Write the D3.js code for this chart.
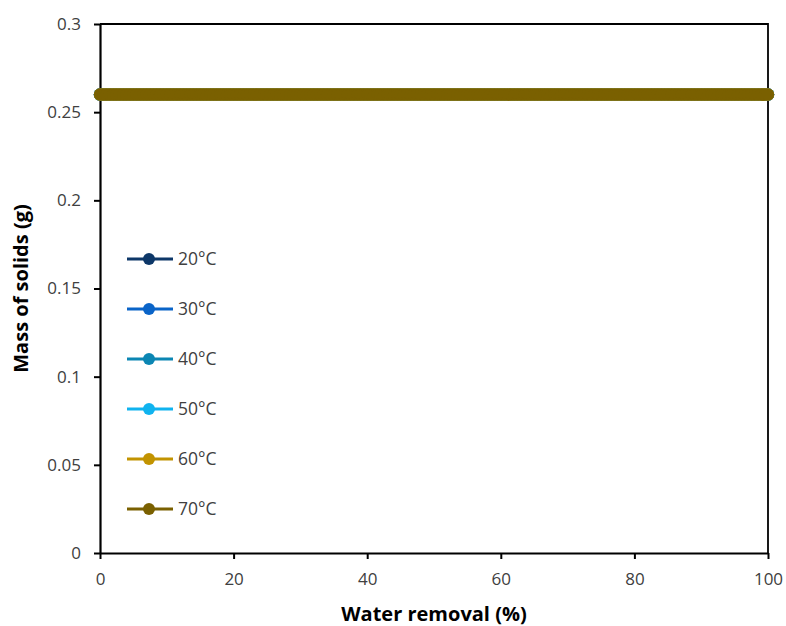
<!DOCTYPE html>
<html>
<head>
<meta charset="utf-8">
<script src="https://cdn.jsdelivr.net/npm/d3@7"></script>
<style>
  body { margin: 0; background: #fff; }
  text { font-family: "Open Sans", "Liberation Sans", sans-serif; }
</style>
</head>
<body>
<svg id="chart" width="786" height="626"></svg>
<script>
// Water removal (%) sampled along the x axis
const waterRemoval = [
  0, 0.5, 1, 1.5, 2, 2.5, 3, 3.5, 4, 4.5, 5, 5.5, 6, 6.5, 7, 7.5, 8, 8.5, 9, 9.5,
  10, 10.5, 11, 11.5, 12, 12.5, 13, 13.5, 14, 14.5, 15, 15.5, 16, 16.5, 17, 17.5, 18, 18.5, 19, 19.5,
  20, 20.5, 21, 21.5, 22, 22.5, 23, 23.5, 24, 24.5, 25, 25.5, 26, 26.5, 27, 27.5, 28, 28.5, 29, 29.5,
  30, 30.5, 31, 31.5, 32, 32.5, 33, 33.5, 34, 34.5, 35, 35.5, 36, 36.5, 37, 37.5, 38, 38.5, 39, 39.5,
  40, 40.5, 41, 41.5, 42, 42.5, 43, 43.5, 44, 44.5, 45, 45.5, 46, 46.5, 47, 47.5, 48, 48.5, 49, 49.5,
  50, 50.5, 51, 51.5, 52, 52.5, 53, 53.5, 54, 54.5, 55, 55.5, 56, 56.5, 57, 57.5, 58, 58.5, 59, 59.5,
  60, 60.5, 61, 61.5, 62, 62.5, 63, 63.5, 64, 64.5, 65, 65.5, 66, 66.5, 67, 67.5, 68, 68.5, 69, 69.5,
  70, 70.5, 71, 71.5, 72, 72.5, 73, 73.5, 74, 74.5, 75, 75.5, 76, 76.5, 77, 77.5, 78, 78.5, 79, 79.5,
  80, 80.5, 81, 81.5, 82, 82.5, 83, 83.5, 84, 84.5, 85, 85.5, 86, 86.5, 87, 87.5, 88, 88.5, 89, 89.5,
  90, 90.5, 91, 91.5, 92, 92.5, 93, 93.5, 94, 94.5, 95, 95.5, 96, 96.5, 97, 97.5, 98, 98.5, 99, 99.5,
  100
];

// Mass of solids (g) for each temperature, one value per waterRemoval entry
const mass20 = [
  0.26,0.26,0.26,0.26,0.26,0.26,0.26,0.26,0.26,0.26,0.26,0.26,0.26,0.26,0.26,0.26,0.26,0.26,0.26,0.26,
  0.26,0.26,0.26,0.26,0.26,0.26,0.26,0.26,0.26,0.26,0.26,0.26,0.26,0.26,0.26,0.26,0.26,0.26,0.26,0.26,
  0.26,0.26,0.26,0.26,0.26,0.26,0.26,0.26,0.26,0.26,0.26,0.26,0.26,0.26,0.26,0.26,0.26,0.26,0.26,0.26,
  0.26,0.26,0.26,0.26,0.26,0.26,0.26,0.26,0.26,0.26,0.26,0.26,0.26,0.26,0.26,0.26,0.26,0.26,0.26,0.26,
  0.26,0.26,0.26,0.26,0.26,0.26,0.26,0.26,0.26,0.26,0.26,0.26,0.26,0.26,0.26,0.26,0.26,0.26,0.26,0.26,
  0.26,0.26,0.26,0.26,0.26,0.26,0.26,0.26,0.26,0.26,0.26,0.26,0.26,0.26,0.26,0.26,0.26,0.26,0.26,0.26,
  0.26,0.26,0.26,0.26,0.26,0.26,0.26,0.26,0.26,0.26,0.26,0.26,0.26,0.26,0.26,0.26,0.26,0.26,0.26,0.26,
  0.26,0.26,0.26,0.26,0.26,0.26,0.26,0.26,0.26,0.26,0.26,0.26,0.26,0.26,0.26,0.26,0.26,0.26,0.26,0.26,
  0.26,0.26,0.26,0.26,0.26,0.26,0.26,0.26,0.26,0.26,0.26,0.26,0.26,0.26,0.26,0.26,0.26,0.26,0.26,0.26,
  0.26,0.26,0.26,0.26,0.26,0.26,0.26,0.26,0.26,0.26,0.26,0.26,0.26,0.26,0.26,0.26,0.26,0.26,0.26,0.26,
  0.26
];
const mass30 = [
  0.26,0.26,0.26,0.26,0.26,0.26,0.26,0.26,0.26,0.26,0.26,0.26,0.26,0.26,0.26,0.26,0.26,0.26,0.26,0.26,
  0.26,0.26,0.26,0.26,0.26,0.26,0.26,0.26,0.26,0.26,0.26,0.26,0.26,0.26,0.26,0.26,0.26,0.26,0.26,0.26,
  0.26,0.26,0.26,0.26,0.26,0.26,0.26,0.26,0.26,0.26,0.26,0.26,0.26,0.26,0.26,0.26,0.26,0.26,0.26,0.26,
  0.26,0.26,0.26,0.26,0.26,0.26,0.26,0.26,0.26,0.26,0.26,0.26,0.26,0.26,0.26,0.26,0.26,0.26,0.26,0.26,
  0.26,0.26,0.26,0.26,0.26,0.26,0.26,0.26,0.26,0.26,0.26,0.26,0.26,0.26,0.26,0.26,0.26,0.26,0.26,0.26,
  0.26,0.26,0.26,0.26,0.26,0.26,0.26,0.26,0.26,0.26,0.26,0.26,0.26,0.26,0.26,0.26,0.26,0.26,0.26,0.26,
  0.26,0.26,0.26,0.26,0.26,0.26,0.26,0.26,0.26,0.26,0.26,0.26,0.26,0.26,0.26,0.26,0.26,0.26,0.26,0.26,
  0.26,0.26,0.26,0.26,0.26,0.26,0.26,0.26,0.26,0.26,0.26,0.26,0.26,0.26,0.26,0.26,0.26,0.26,0.26,0.26,
  0.26,0.26,0.26,0.26,0.26,0.26,0.26,0.26,0.26,0.26,0.26,0.26,0.26,0.26,0.26,0.26,0.26,0.26,0.26,0.26,
  0.26,0.26,0.26,0.26,0.26,0.26,0.26,0.26,0.26,0.26,0.26,0.26,0.26,0.26,0.26,0.26,0.26,0.26,0.26,0.26,
  0.26
];
const mass40 = [
  0.26,0.26,0.26,0.26,0.26,0.26,0.26,0.26,0.26,0.26,0.26,0.26,0.26,0.26,0.26,0.26,0.26,0.26,0.26,0.26,
  0.26,0.26,0.26,0.26,0.26,0.26,0.26,0.26,0.26,0.26,0.26,0.26,0.26,0.26,0.26,0.26,0.26,0.26,0.26,0.26,
  0.26,0.26,0.26,0.26,0.26,0.26,0.26,0.26,0.26,0.26,0.26,0.26,0.26,0.26,0.26,0.26,0.26,0.26,0.26,0.26,
  0.26,0.26,0.26,0.26,0.26,0.26,0.26,0.26,0.26,0.26,0.26,0.26,0.26,0.26,0.26,0.26,0.26,0.26,0.26,0.26,
  0.26,0.26,0.26,0.26,0.26,0.26,0.26,0.26,0.26,0.26,0.26,0.26,0.26,0.26,0.26,0.26,0.26,0.26,0.26,0.26,
  0.26,0.26,0.26,0.26,0.26,0.26,0.26,0.26,0.26,0.26,0.26,0.26,0.26,0.26,0.26,0.26,0.26,0.26,0.26,0.26,
  0.26,0.26,0.26,0.26,0.26,0.26,0.26,0.26,0.26,0.26,0.26,0.26,0.26,0.26,0.26,0.26,0.26,0.26,0.26,0.26,
  0.26,0.26,0.26,0.26,0.26,0.26,0.26,0.26,0.26,0.26,0.26,0.26,0.26,0.26,0.26,0.26,0.26,0.26,0.26,0.26,
  0.26,0.26,0.26,0.26,0.26,0.26,0.26,0.26,0.26,0.26,0.26,0.26,0.26,0.26,0.26,0.26,0.26,0.26,0.26,0.26,
  0.26,0.26,0.26,0.26,0.26,0.26,0.26,0.26,0.26,0.26,0.26,0.26,0.26,0.26,0.26,0.26,0.26,0.26,0.26,0.26,
  0.26
];
const mass50 = [
  0.26,0.26,0.26,0.26,0.26,0.26,0.26,0.26,0.26,0.26,0.26,0.26,0.26,0.26,0.26,0.26,0.26,0.26,0.26,0.26,
  0.26,0.26,0.26,0.26,0.26,0.26,0.26,0.26,0.26,0.26,0.26,0.26,0.26,0.26,0.26,0.26,0.26,0.26,0.26,0.26,
  0.26,0.26,0.26,0.26,0.26,0.26,0.26,0.26,0.26,0.26,0.26,0.26,0.26,0.26,0.26,0.26,0.26,0.26,0.26,0.26,
  0.26,0.26,0.26,0.26,0.26,0.26,0.26,0.26,0.26,0.26,0.26,0.26,0.26,0.26,0.26,0.26,0.26,0.26,0.26,0.26,
  0.26,0.26,0.26,0.26,0.26,0.26,0.26,0.26,0.26,0.26,0.26,0.26,0.26,0.26,0.26,0.26,0.26,0.26,0.26,0.26,
  0.26,0.26,0.26,0.26,0.26,0.26,0.26,0.26,0.26,0.26,0.26,0.26,0.26,0.26,0.26,0.26,0.26,0.26,0.26,0.26,
  0.26,0.26,0.26,0.26,0.26,0.26,0.26,0.26,0.26,0.26,0.26,0.26,0.26,0.26,0.26,0.26,0.26,0.26,0.26,0.26,
  0.26,0.26,0.26,0.26,0.26,0.26,0.26,0.26,0.26,0.26,0.26,0.26,0.26,0.26,0.26,0.26,0.26,0.26,0.26,0.26,
  0.26,0.26,0.26,0.26,0.26,0.26,0.26,0.26,0.26,0.26,0.26,0.26,0.26,0.26,0.26,0.26,0.26,0.26,0.26,0.26,
  0.26,0.26,0.26,0.26,0.26,0.26,0.26,0.26,0.26,0.26,0.26,0.26,0.26,0.26,0.26,0.26,0.26,0.26,0.26,0.26,
  0.26
];
const mass60 = [
  0.26,0.26,0.26,0.26,0.26,0.26,0.26,0.26,0.26,0.26,0.26,0.26,0.26,0.26,0.26,0.26,0.26,0.26,0.26,0.26,
  0.26,0.26,0.26,0.26,0.26,0.26,0.26,0.26,0.26,0.26,0.26,0.26,0.26,0.26,0.26,0.26,0.26,0.26,0.26,0.26,
  0.26,0.26,0.26,0.26,0.26,0.26,0.26,0.26,0.26,0.26,0.26,0.26,0.26,0.26,0.26,0.26,0.26,0.26,0.26,0.26,
  0.26,0.26,0.26,0.26,0.26,0.26,0.26,0.26,0.26,0.26,0.26,0.26,0.26,0.26,0.26,0.26,0.26,0.26,0.26,0.26,
  0.26,0.26,0.26,0.26,0.26,0.26,0.26,0.26,0.26,0.26,0.26,0.26,0.26,0.26,0.26,0.26,0.26,0.26,0.26,0.26,
  0.26,0.26,0.26,0.26,0.26,0.26,0.26,0.26,0.26,0.26,0.26,0.26,0.26,0.26,0.26,0.26,0.26,0.26,0.26,0.26,
  0.26,0.26,0.26,0.26,0.26,0.26,0.26,0.26,0.26,0.26,0.26,0.26,0.26,0.26,0.26,0.26,0.26,0.26,0.26,0.26,
  0.26,0.26,0.26,0.26,0.26,0.26,0.26,0.26,0.26,0.26,0.26,0.26,0.26,0.26,0.26,0.26,0.26,0.26,0.26,0.26,
  0.26,0.26,0.26,0.26,0.26,0.26,0.26,0.26,0.26,0.26,0.26,0.26,0.26,0.26,0.26,0.26,0.26,0.26,0.26,0.26,
  0.26,0.26,0.26,0.26,0.26,0.26,0.26,0.26,0.26,0.26,0.26,0.26,0.26,0.26,0.26,0.26,0.26,0.26,0.26,0.26,
  0.26
];
const mass70 = [
  0.26,0.26,0.26,0.26,0.26,0.26,0.26,0.26,0.26,0.26,0.26,0.26,0.26,0.26,0.26,0.26,0.26,0.26,0.26,0.26,
  0.26,0.26,0.26,0.26,0.26,0.26,0.26,0.26,0.26,0.26,0.26,0.26,0.26,0.26,0.26,0.26,0.26,0.26,0.26,0.26,
  0.26,0.26,0.26,0.26,0.26,0.26,0.26,0.26,0.26,0.26,0.26,0.26,0.26,0.26,0.26,0.26,0.26,0.26,0.26,0.26,
  0.26,0.26,0.26,0.26,0.26,0.26,0.26,0.26,0.26,0.26,0.26,0.26,0.26,0.26,0.26,0.26,0.26,0.26,0.26,0.26,
  0.26,0.26,0.26,0.26,0.26,0.26,0.26,0.26,0.26,0.26,0.26,0.26,0.26,0.26,0.26,0.26,0.26,0.26,0.26,0.26,
  0.26,0.26,0.26,0.26,0.26,0.26,0.26,0.26,0.26,0.26,0.26,0.26,0.26,0.26,0.26,0.26,0.26,0.26,0.26,0.26,
  0.26,0.26,0.26,0.26,0.26,0.26,0.26,0.26,0.26,0.26,0.26,0.26,0.26,0.26,0.26,0.26,0.26,0.26,0.26,0.26,
  0.26,0.26,0.26,0.26,0.26,0.26,0.26,0.26,0.26,0.26,0.26,0.26,0.26,0.26,0.26,0.26,0.26,0.26,0.26,0.26,
  0.26,0.26,0.26,0.26,0.26,0.26,0.26,0.26,0.26,0.26,0.26,0.26,0.26,0.26,0.26,0.26,0.26,0.26,0.26,0.26,
  0.26,0.26,0.26,0.26,0.26,0.26,0.26,0.26,0.26,0.26,0.26,0.26,0.26,0.26,0.26,0.26,0.26,0.26,0.26,0.26,
  0.26
];

const seriesNames = ["20°C", "30°C", "40°C", "50°C", "60°C", "70°C"];
const seriesValues = [mass20, mass30, mass40, mass50, mass60, mass70];
const seriesColors = ["#0d3768", "#0a64c8", "#0b86b3", "#10b3ef", "#c29300", "#7a6000"];

const xTicks = [0, 20, 40, 60, 80, 100];
const yTicks = [0, 0.05, 0.1, 0.15, 0.2, 0.25, 0.3];

// Plot frame
const margin = {left: 100, right: 18, top: 24, bottom: 73};
const width = 786, height = 626;
const innerRight = width - margin.right;
const innerBottom = height - margin.bottom;

const svg = d3.select("#chart");

const xScale = d3.scaleLinear().domain([0, 100]).range([margin.left, innerRight]);
const yScale = d3.scaleLinear().domain([0, 0.3]).range([innerBottom, margin.top]);

// Frame top + right
svg.append("path")
    .attr("d", `M${margin.left},${margin.top}H${innerRight}V${innerBottom}`)
    .attr("fill", "none")
    .attr("stroke", "#000")
    .attr("stroke-width", 1.8);

// X axis
const xAxis = svg.append("g")
    .attr("transform", `translate(0,${innerBottom})`)
    .call(d3.axisBottom(xScale).tickValues(xTicks).tickSize(6).tickPadding(14).tickSizeOuter(0));

// Y axis
const yAxis = svg.append("g")
    .attr("transform", `translate(${margin.left},0)`)
    .call(d3.axisLeft(yScale).tickValues(yTicks).tickSize(6).tickPadding(13).tickSizeOuter(0)
        .tickFormat(d => d3.format("")(+d.toFixed(2))));

[xAxis, yAxis].forEach(ax => {
    ax.select(".domain").attr("stroke", "#000").attr("stroke-width", 2.2);
    ax.selectAll(".tick line").attr("stroke", "#000").attr("stroke-width", 2);
    ax.selectAll(".tick text")
        .attr("fill", "#404040")
        .style("font-size", "17px")
        .style("font-family", "'Open Sans', sans-serif");
});

// Series: line then dots, drawn in order so 70°C ends up on top
const line = d3.line()
    .x((d, i) => xScale(waterRemoval[i]))
    .y(d => yScale(d));

seriesValues.forEach((vals, s) => {
    const g = svg.append("g");
    g.append("path")
        .datum(vals)
        .attr("fill", "none")
        .attr("stroke", seriesColors[s])
        .attr("stroke-width", 3)
        .attr("d", line);
    g.selectAll("circle")
        .data(vals)
        .enter()
        .append("circle")
        .attr("cx", (d, i) => xScale(waterRemoval[i]))
        .attr("cy", d => yScale(d))
        .attr("r", 6.2)
        .attr("fill", seriesColors[s]);
});

// Legend
const legendX = 127, legendY = 259, legendStep = 50;
const legend = svg.append("g");
seriesNames.forEach((name, s) => {
    const y = legendY + s * legendStep;
    legend.append("line")
        .attr("x1", legendX).attr("x2", legendX + 46)
        .attr("y1", y).attr("y2", y)
        .attr("stroke", seriesColors[s])
        .attr("stroke-width", 3);
    legend.append("circle")
        .attr("cx", legendX + 22).attr("cy", y)
        .attr("r", 6)
        .attr("fill", seriesColors[s]);
    legend.append("text")
        .attr("x", legendX + 51).attr("y", y)
        .attr("dy", "0.35em")
        .attr("fill", "#404040")
        .style("font-size", "17.5px")
        .text(name);
});

// Axis titles
svg.append("text")
    .attr("x", (margin.left + innerRight) / 2)
    .attr("y", 621)
    .attr("text-anchor", "middle")
    .attr("fill", "#000")
    .style("font-size", "20px")
    .style("font-weight", "bold")
    .text("Water removal (%)");

svg.append("text")
    .attr("transform", `translate(28,${(margin.top + innerBottom) / 2}) rotate(-90)`)
    .attr("text-anchor", "middle")
    .attr("fill", "#000")
    .style("font-size", "20px")
    .style("font-weight", "bold")
    .text("Mass of solids (g)");
</script>
</body>
</html>
